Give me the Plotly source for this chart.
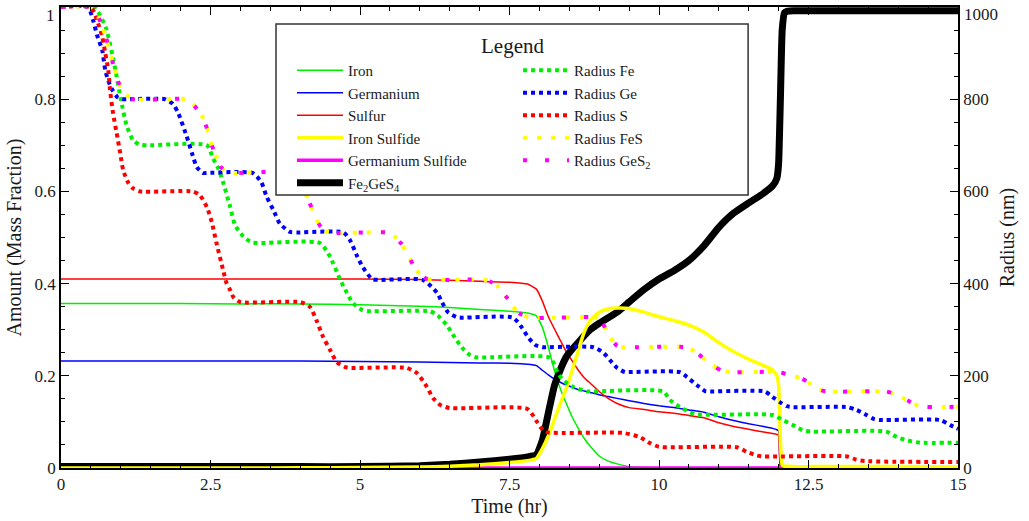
import plotly.graph_objects as go

# ---------------- data ----------------
t_mass = [0, 1, 2, 3, 4, 5, 6, 6.5, 7, 7.5, 7.8, 7.95,
          8.05, 8.15, 8.25, 8.35, 8.45, 8.55, 8.65, 8.75, 8.85,
          9.0, 9.15, 9.3, 9.5, 9.75,
          10.0, 10.25, 10.5, 10.75,
          11.0, 11.25, 11.5, 11.75, 11.9, 11.97,
          12.0, 12.03, 12.06, 12.1, 12.15, 12.25, 12.5,
          13, 14, 15]

iron = [0.357, 0.357, 0.357, 0.356, 0.356, 0.354, 0.351, 0.348, 0.344, 0.340, 0.336, 0.330,
        0.305, 0.262, 0.212, 0.172, 0.140, 0.110, 0.086, 0.064, 0.047,
        0.026, 0.015, 0.009, 0.003, 0.001,
        0, 0, 0, 0,
        0, 0, 0, 0, 0, 0,
        0, 0, 0, 0, 0, 0, 0,
        0, 0, 0]

sulfur = [0.410, 0.410, 0.410, 0.410, 0.410, 0.410, 0.409, 0.407, 0.405, 0.403, 0.399, 0.388,
          0.362, 0.328, 0.302, 0.277, 0.252, 0.232, 0.212, 0.196, 0.184,
          0.166, 0.151, 0.140, 0.131, 0.127,
          0.122, 0.119, 0.114, 0.109,
          0.098, 0.090, 0.084, 0.078, 0.075, 0.073,
          0.070, 0, 0, 0, 0, 0, 0,
          0, 0, 0]

germanium = [0.232, 0.232, 0.232, 0.232, 0.232, 0.231, 0.230, 0.229, 0.228, 0.227, 0.225, 0.222,
             0.212, 0.202, 0.193, 0.186, 0.180, 0.175, 0.170, 0.167, 0.164,
             0.159, 0.155, 0.151, 0.146, 0.140,
             0.135, 0.131, 0.126, 0.121,
             0.111, 0.103, 0.096, 0.090, 0.086, 0.083,
             0.080, 0, 0, 0, 0, 0, 0,
             0, 0, 0]

iron_sulfide = [0.0, 0.0, 0.0, 0.0, 0.0005, 0.001, 0.002, 0.004, 0.007, 0.012, 0.016, 0.021,
                0.042, 0.070, 0.105, 0.140, 0.173, 0.212, 0.255, 0.295, 0.320,
                0.338, 0.345, 0.347, 0.346, 0.338,
                0.328, 0.320, 0.310, 0.295,
                0.272, 0.252, 0.236, 0.222, 0.213, 0.200,
                0.180, 0.060, 0.006, 0.004, 0.004, 0.003, 0.003,
                0.003, 0.003, 0.002]

germanium_sulfide = [0.0] * 46

fe2ges4 = [0.003, 0.003, 0.003, 0.003, 0.003, 0.003, 0.005, 0.008, 0.013, 0.019, 0.024, 0.029,
           0.060, 0.120, 0.178, 0.213, 0.241, 0.258, 0.272, 0.287, 0.300,
           0.314, 0.326, 0.338, 0.360, 0.387,
           0.410, 0.428, 0.450, 0.482,
           0.522, 0.553, 0.575, 0.596, 0.612, 0.628,
           0.660, 0.800, 0.950, 0.988, 0.991, 0.992, 0.992,
           0.992, 0.992, 0.992]

t_rfe = [0, 0.55, 0.75, 0.9, 1.0, 1.1, 1.2, 1.3, 1.45, 2.44, 2.54, 2.63, 2.71, 2.83, 2.91, 3.05, 3.2, 3.35,
         4.33, 4.5, 4.67, 4.78, 4.88, 5.03, 5.15,
         6.17, 6.3, 6.45, 6.59, 6.7, 6.84, 6.95,
         8.18, 8.3, 8.4, 8.56, 8.8, 8.9,
         10.07, 10.18, 10.35, 10.52, 10.62,
         11.9, 12.07, 12.24, 12.4, 12.55,
         13.8, 13.98, 14.15, 14.36, 15]
radius_fe = [1000, 1000, 955, 870, 800, 742, 712, 702, 700, 700, 672, 650, 620, 566, 527, 502, 489, 488,
             488, 458, 408, 380, 358, 343, 340,
             340, 331, 310, 282, 262, 245, 240,
             239, 208, 190, 176, 166, 166,
             166, 148, 132, 121, 116,
             115, 104, 93, 82, 79,
             79, 67, 60, 55, 55]

t_rge = [0, 0.45, 0.54, 0.6, 0.69, 0.74, 0.79, 0.86, 0.94, 1.02, 1.1,
         1.74, 1.87, 1.96, 2.1, 2.19, 2.27, 2.37, 2.45,
         3.2, 3.35, 3.44, 3.55, 3.66, 3.83, 3.95,
         4.72, 4.83, 4.95, 5.05, 5.2, 5.3,
         6.05, 6.29, 6.37, 6.47, 6.62, 6.7,
         7.56, 7.71, 7.81, 7.93, 8.06, 8.15,
         8.9, 9.07, 9.18, 9.3, 9.43, 9.5,
         10.35, 10.47, 10.63, 10.77, 10.85,
         11.77, 11.9, 12.02, 12.14, 12.24,
         13.15, 13.3, 13.47, 13.6, 13.7,
         14.7, 14.87, 15]
radius_ge = [1000, 1000, 970, 940, 906, 863, 840, 820, 805, 800, 800,
             800, 790, 770, 720, 683, 653, 640, 640,
             640, 620, 588, 560, 530, 512, 511,
             511, 495, 460, 435, 410, 408,
             408, 380, 360, 338, 327, 326,
             326, 304, 284, 267, 262, 262,
             262, 250, 234, 217, 208, 208,
             208, 197, 180, 167, 166,
             166, 154, 143, 134, 132,
             132, 126, 115, 106, 104,
             104, 93, 85]

t_rs = [0, 0.5, 0.57, 0.62, 0.69, 0.74, 0.79, 0.82, 0.87, 0.93, 0.99, 1.04, 1.12, 1.2, 1.32,
        2.2, 2.32, 2.44, 2.52, 2.6, 2.71, 2.77, 2.83, 2.88, 3.0,
        4.0, 4.16, 4.28, 4.38, 4.5, 4.61, 4.75, 4.85,
        5.78, 5.95, 6.12, 6.22, 6.34, 6.5,
        7.8, 7.96, 8.06, 8.15,
        9.4, 9.68, 9.85, 10.0,
        11.3, 11.47, 11.64, 11.75,
        13.15, 13.3, 13.45, 15]
radius_s = [1000, 1000, 983, 965, 935, 900, 863, 820, 770, 727, 683, 646, 620, 607, 600,
            600, 592, 566, 534, 488, 430, 400, 386, 371, 360,
            360, 350, 318, 285, 256, 230, 219, 217,
            217, 206, 176, 152, 137, 130,
            128, 100, 82, 77,
            76, 67, 54, 46,
            45, 35, 27, 25,
            25, 18, 15, 13]

t_rfes = [0, 0.5, 0.6, 0.75, 0.95, 1.05, 1.2,
          2.1, 2.2, 2.35, 2.44, 2.52, 2.6, 2.68, 2.76, 2.85,
          3.85, 4.0, 4.1, 4.2, 4.3, 4.4, 4.55,
          5.5, 5.6, 5.7, 5.8, 5.95, 6.1, 6.25,
          7.1, 7.2, 7.31, 7.46, 7.56, 7.66, 7.84,
          8.95, 9.05, 9.18, 9.3, 9.42,
          10.45, 10.6, 10.8, 10.94, 11.05, 11.2,
          12.0, 12.2, 12.39, 12.5, 12.65, 12.8,
          13.8, 13.95, 14.15, 14.36, 15]
radius_fes = [1000, 1000, 985, 935, 840, 815, 800,
              800, 790, 766, 737, 700, 676, 652, 642, 640,
              640, 620, 592, 562, 532, 515, 510,
              510, 500, 485, 462, 428, 411, 408,
              408, 403, 393, 369, 350, 336, 326,
              326, 315, 284, 265, 262,
              262, 253, 232, 219, 211, 208,
              208, 201, 194, 185, 171, 166,
              166, 160, 147, 134, 133]

t_rges2 = list(t_rfes)
radius_ges2 = list(radius_fes)

# tick labels
x_ticks = [0, 2.5, 5, 7.5, 10, 12.5, 15]
x_labels = ["0", "2.5", "5", "7.5", "10", "12.5", "15"]
y_ticks = [0, 0.2, 0.4, 0.6, 0.8, 1.0]
y_labels = ["0", "0.2", "0.4", "0.6", "0.8", "1"]
y2_ticks = [0, 200, 400, 600, 800, 1000]
y2_labels = ["0", "200", "400", "600", "800", "1000"]

# ---------------- figure ----------------
FONT = "Liberation Serif"
TXT = "#1a1a1a"
fig = go.Figure()

def mass(name, y, color, width, rank):
    fig.add_trace(go.Scatter(x=t_mass, y=y, name=name, mode="lines",
                             line=dict(color=color, width=width, shape="spline", smoothing=0.4),
                             legend="legend", legendrank=rank, yaxis="y"))

mass("Iron", iron, "#00ee00", 1.5, 1)
mass("Germanium", germanium, "#0000ff", 1.5, 2)
mass("Sulfur", sulfur, "#ff0000", 1.5, 3)
mass("Germanium Sulfide", germanium_sulfide, "#ff00ff", 3.5, 5)
mass("Fe<sub>2</sub>GeS<sub>4</sub>", fe2ges4, "#000000", 7, 6)
mass("Iron Sulfide", iron_sulfide, "#ffff00", 3.5, 4)

def rad(name, t, r, color, dash, rank):
    fig.add_trace(go.Scatter(x=t, y=r, name=name, mode="lines",
                             line=dict(color=color, width=4, dash=dash, shape="spline", smoothing=0.6),
                             legend="legend2", legendrank=rank, yaxis="y2"))

rad("Radius Fe", t_rfe, radius_fe, "#00ee00", "dot", 1)
rad("Radius Ge", t_rge, radius_ge, "#0000ff", "dot", 2)
rad("Radius S", t_rs, radius_s, "#ff0000", "dot", 3)
rad("Radius FeS", t_rfes, radius_fes, "#ffff00", "4px,10px", 4)
rad("Radius GeS<sub>2</sub>", t_rges2, radius_ges2, "#ff00ff", "4px,18px", 5)

axis_common = dict(showgrid=False, zeroline=False, showline=True, linecolor="black",
                   linewidth=1.5, ticks="inside", tickcolor="black", ticklen=8, tickwidth=1,
                   automargin=False, ticklabeloverflow="allow",
                   tickfont=dict(family=FONT, size=17, color=TXT))

# the top labels sit a little below their tick (as in the original), so they are
# written as annotations and left blank on the axis
y_axis_text = y_labels[:-1] + [""]
y2_axis_text = y2_labels[:-1] + [""]

fig.update_layout(
    width=1029, height=521,
    margin=dict(l=61, r=71, t=7, b=53),
    paper_bgcolor="white", plot_bgcolor="white",
    font=dict(family=FONT, size=16, color=TXT),
    xaxis=dict(range=[0, 15], tickvals=x_ticks, ticktext=x_labels, mirror="ticks",
               minor=dict(dtick=0.5, tick0=0, ticks="inside", ticklen=4, tickcolor="black"),
               title=dict(text="Time (hr)", font=dict(family=FONT, size=20, color=TXT), standoff=6),
               **axis_common),
    yaxis=dict(range=[0, 1], tickvals=y_ticks, ticktext=y_axis_text,
               minor=dict(dtick=0.05, tick0=0, ticks="inside", ticklen=4, tickcolor="black"),
               title=dict(text="Amount (Mass Fraction)", font=dict(family=FONT, size=20, color=TXT), standoff=8),
               **axis_common),
    yaxis2=dict(range=[0, 1000], tickvals=y2_ticks, ticktext=y2_axis_text, overlaying="y", side="right",
                minor=dict(dtick=50, tick0=0, ticks="inside", ticklen=4, tickcolor="black"),
                title=dict(text="Radius (nm)", font=dict(family=FONT, size=20, color=TXT), standoff=12),
                **axis_common),
    legend=dict(x=0.2575, y=0.898, xanchor="left", yanchor="top", bgcolor="rgba(0,0,0,0)",
                borderwidth=0, itemwidth=46, font=dict(family=FONT, size=15, color=TXT),
                traceorder="normal"),
    legend2=dict(x=0.5095, y=0.898, xanchor="left", yanchor="top", bgcolor="rgba(0,0,0,0)",
                 borderwidth=0, itemwidth=46, font=dict(family=FONT, size=15, color=TXT),
                 traceorder="normal"),
    shapes=[dict(type="rect", xref="paper", yref="paper", x0=0.2397, x1=0.766, y0=0.592, y1=0.963,
                 line=dict(color="#333", width=1.5), fillcolor="white", layer="above")],
    annotations=[
        dict(text="Legend", xref="paper", yref="paper", x=0.503, y=0.915,
             xanchor="center", yanchor="middle",
             showarrow=False, font=dict(family=FONT, size=21, color=TXT)),
        dict(text=y_labels[-1], xref="paper", yref="y", x=0, y=y_ticks[-1],
             xanchor="right", yanchor="middle", xshift=-4, yshift=-8,
             showarrow=False, font=dict(family=FONT, size=17, color=TXT)),
        dict(text=y2_labels[-1], xref="paper", yref="y2", x=1, y=y2_ticks[-1],
             xanchor="left", yanchor="middle", xshift=4, yshift=-7,
             showarrow=False, font=dict(family=FONT, size=17, color=TXT)),
    ],
    showlegend=True,
)

fig.write_html("out.html")
